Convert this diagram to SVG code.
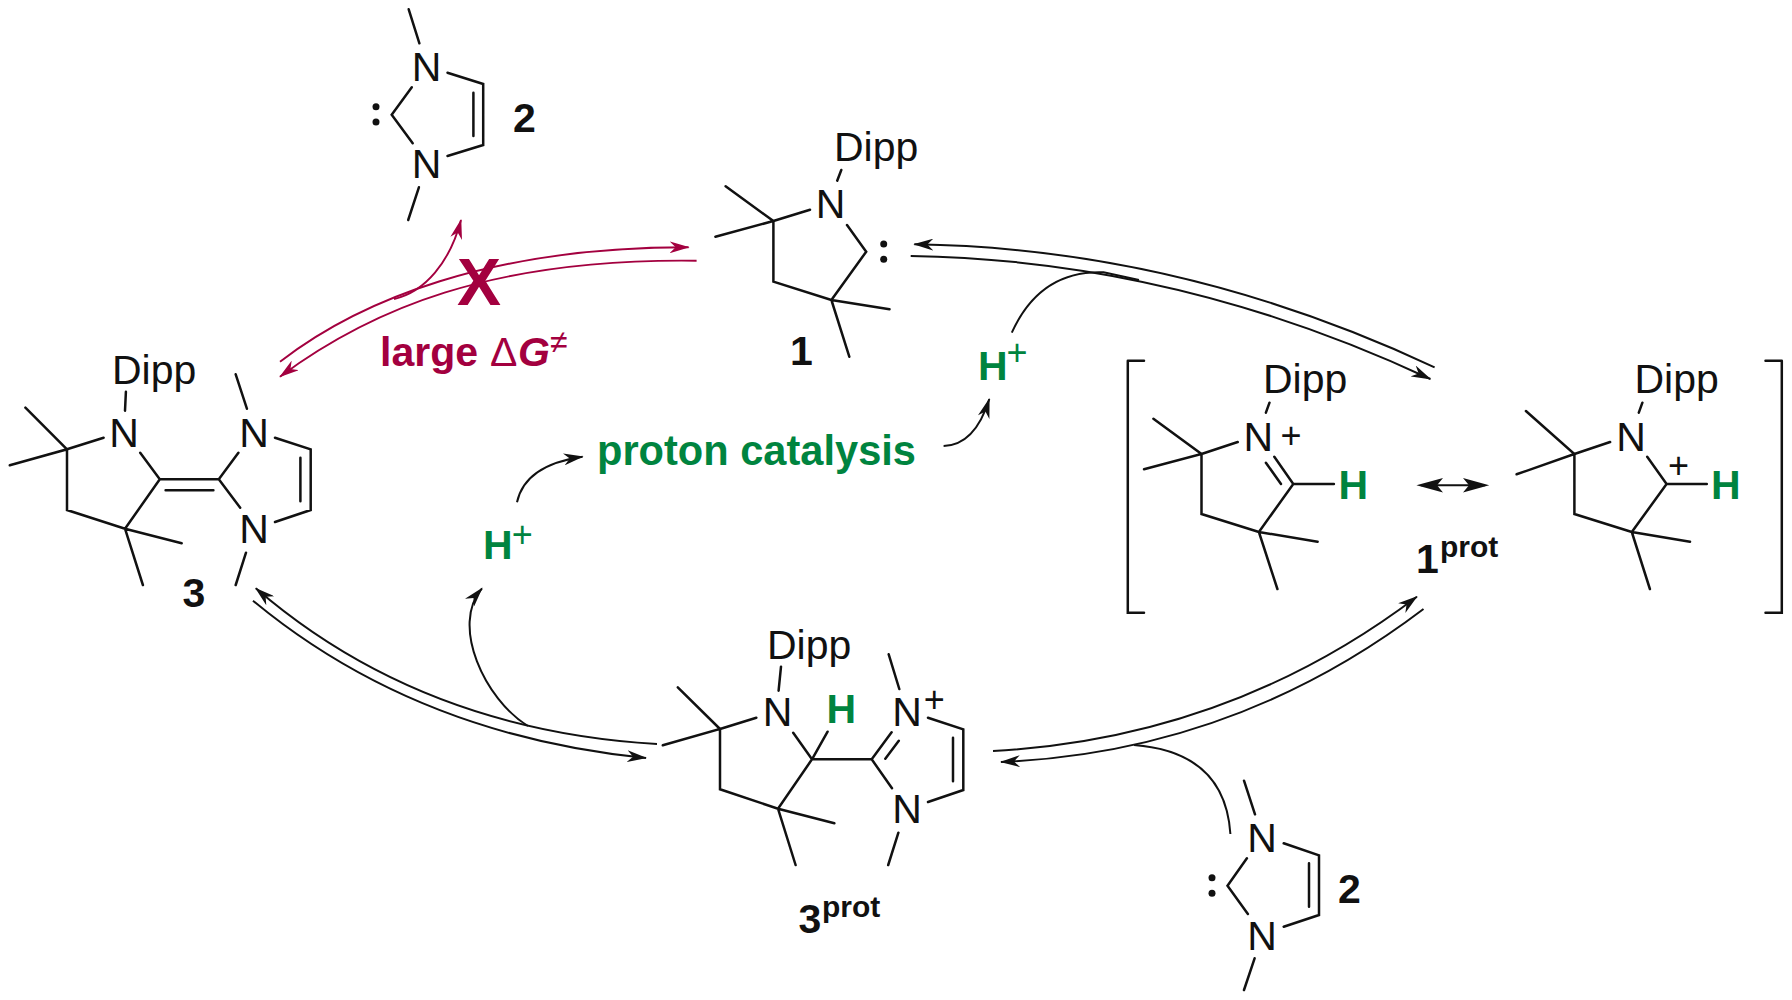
<svg xmlns="http://www.w3.org/2000/svg" width="1792" height="1000" viewBox="0 0 1792 1000">
<style>
text{font-family:"Liberation Sans",Arial,sans-serif;font-size:41px;fill:#111}
.c{text-anchor:middle}
.bd{font-weight:bold}
.g{fill:#00843f}
.r{fill:#a3003f}
.pl{font-size:36px;text-anchor:middle}
.sup{font-size:30px;font-weight:bold}
.b{fill:none;stroke:#111;stroke-width:2.5;stroke-linecap:round;stroke-linejoin:miter}
.a{fill:none;stroke:#111;stroke-width:2}
.ar{fill:none;stroke:#a3003f;stroke-width:1.9}
.e{marker-end:url(#ah)}
.er{marker-end:url(#ahr)}
.dot{fill:#111}
</style>
<defs>
<marker id="ah" markerUnits="userSpaceOnUse" markerWidth="20" markerHeight="12" refX="19" refY="6" orient="auto"><path d="M20,6 L0,0 L6,6 L0,12 Z" fill="#111"/></marker>
<marker id="ahr" markerUnits="userSpaceOnUse" markerWidth="20" markerHeight="12" refX="19" refY="6" orient="auto"><path d="M20,6 L0,0 L6,6 L0,12 Z" fill="#a3003f"/></marker>
</defs>
<g id="connectors">
<path class="ar er" d="M280,361.7 C360,300 490,247 688.6,247.3"/>
<path class="ar er" d="M696.6,260.7 C490,258 370,310 280,376.7"/>
<path class="ar er" d="M394,299 C425,292 450,262 461,220"/>
<path class="a e" d="M1434.6,367.3 Q1180,248 914.3,244.3"/>
<path class="a e" d="M910.7,256 Q1176,260 1430.4,379"/>
<path class="a" d="M1011.8,332.7 Q1040,270 1103.6,272.3 L1139,280"/>
<path class="a e" d="M943.6,446 Q975,445 989.3,399"/>
<path class="a e" d="M517,502.3 Q525,465 582.6,456.7"/>
<path class="a e" d="M528,726 C485,700 450,625 482,588.3"/>
<path class="a e" d="M657,744 Q420,730 255.8,588.3"/>
<path class="a e" d="M253,600.7 Q415,735 646,758"/>
<path class="a e" d="M993,751 Q1230,738 1416.9,596.7"/>
<path class="a e" d="M1423.5,609 Q1235,752 1001,762"/>
<path class="a" d="M1134,745 Q1225,752 1230.4,834"/>
<path class="a" d="M1421,485.3 H1485"/>
<path d="M1416.4,485.3 L1443,478 L1437,485.3 L1443,492.6 Z M1489.2,485.3 L1463,478 L1469,485.3 L1463,492.6 Z" fill="#111"/>
</g>
<g id="node-2-top">
<path class="b" d="M408.7,9.3 L419.4,43.3 M447.5,72.7 L483.2,84 V145 L447.5,156 M473.4,92.7 V136 M411.8,87.3 L391.7,114.7 L412.7,143.3 M418.9,187.3 L408.2,220"/>
<text class="c" x="426.5" y="81">N</text><text class="c" x="426.5" y="178.3">N</text>
<circle class="dot" cx="376" cy="106.7" r="3.5"/><circle class="dot" cx="376" cy="122" r="3.5"/>
<text class="bd" x="513" y="131.7">2</text>
</g>
<g id="node-1">
<path class="b" d="M841.3,170 L837.2,180.7 M725.6,186.3 L773.4,221 L715.4,236.7 M773.4,221 L810,209.7 M773.4,221 V281.7 L831.4,300 L866.2,251.7 L847,225 M831.4,300 L889.5,309.3 M831.4,300 L849.3,356.7"/>
<text x="834" y="160.7">Dipp</text><text class="c" x="830.5" y="218.3">N</text>
<circle class="dot" cx="883.7" cy="244" r="3.5"/><circle class="dot" cx="883.7" cy="259.3" r="3.5"/>
<text class="bd" x="790" y="365">1</text>
</g>
<g id="node-3">
<path class="b" d="M125.9,391.7 L125,410.7 M25.4,407.7 L67,449.3 L9.8,465.3 M67,449.3 L103.6,437.7 M67,449.3 V510 L125,528.7 L159.8,479.3 L140.2,452.7 M125,528.7 L181.7,543.3 M125,528.7 L142.9,585 M159.8,479.3 H218.8 M165.6,490.3 H213.4 M238.4,452.7 L218.8,479.3 L240.2,507.7 M235.7,374.3 L246.9,408.7 M246,552.7 L235.7,585 M275,437.7 L310.7,449.3 V510 L275,522 M300.4,457.7 V501.3"/>
<text x="112" y="384">Dipp</text><text class="c" x="124" y="446.7">N</text><text class="c" x="254" y="446.7">N</text><text class="c" x="254" y="543.3">N</text>
<text class="bd" x="182.5" y="606.7">3</text>
</g>
<g id="node-proton">
<text class="bd g" style="font-size:41.6px" x="597" y="465">proton catalysis</text>
<text class="bd g" x="483" y="559.3">H</text><text class="pl g" x="522.3" y="547">+</text>
<text class="bd g" x="978" y="380">H</text><text class="pl g" x="1017" y="365">+</text>
</g>
<g id="node-1prot">
<path class="b" d="M1127.8,360.7 H1144 M1127.8,360.7 V612.7 H1144 M1781.8,360.7 H1765.5 M1781.8,360.7 V612.7 H1765.5"/>
<path class="b" d="M1269.5,402.7 L1265.9,412.7 M1153.4,418.7 L1201.5,454 L1144,469.3 M1201.5,454 L1237.7,442 M1201.5,454 V514 L1258.9,532 L1293.3,484 L1274.3,456.7 M1265.9,462.7 L1281,484 M1293.3,484 H1333.9 M1258.9,532 L1317.6,541.7 M1258.9,532 L1277.4,589"/>
<text x="1263" y="393.3">Dipp</text><text class="c" x="1258.2" y="451">N</text><text class="pl" x="1291" y="448">+</text>
<text class="bd g" x="1338.5" y="499">H</text>
<path class="b" d="M1642.4,402.7 L1638.8,412.7 M1525.9,411 L1574.4,454 L1516.6,474.3 M1574.4,454 L1610.1,442 M1574.4,454 V514 L1631.8,532 L1666.6,484 L1647.2,456.7 M1666.6,484 H1706.8 M1631.8,532 L1690,541.7 M1631.8,532 L1649.9,589"/>
<text x="1634.5" y="393.3">Dipp</text><text class="c" x="1631.1" y="451">N</text><text class="pl" x="1678.5" y="478">+</text>
<text class="bd g" x="1711" y="499">H</text>
<text class="bd" x="1416" y="572.7">1</text><text class="sup" x="1440" y="556.7">prot</text>
</g>
<g id="node-3prot">
<path class="b" d="M781,666.7 L778.6,690.7 M677.8,687.3 L720,729 L662.8,745.3 M720,729 V789.3 L778,808.7 L812,759.3 L793.2,732.7 M720,729 L756.3,717.7 M812,759.3 L827.6,731.7 M812,759.3 H871.7 M778,808.7 L834.4,823.3 M778,808.7 L795.6,865 M891.6,732.3 L871.7,759.3 L892,788.3 M885.3,758.7 L898.8,740.7 M888.7,654.3 L899.3,689 M898.4,832.7 L888.2,865 M928,717.7 L963.3,729.3 V790 L928,802 M953,737.7 V781.3"/>
<text x="767" y="659">Dipp</text><text class="c" x="777.5" y="726">N</text><text class="bd g" x="826.5" y="723.3">H</text>
<text class="c" x="907" y="726">N</text><text class="pl" x="934.2" y="712">+</text><text class="c" x="907" y="823.3">N</text>
<text class="bd" x="798.5" y="933.3">3</text><text class="sup" x="822" y="916.7">prot</text>
</g>
<g id="node-2-bottom">
<path class="b" d="M1244,780.7 L1255,814.3 M1283.7,843.3 L1319,855.3 V915 L1283.7,926.7 M1309,863.3 V906.7 M1246.9,858.3 L1227.5,885.7 L1247.9,914 M1254.6,958.3 L1244,990"/>
<text class="c" x="1262" y="851.7">N</text><text class="c" x="1262" y="950">N</text>
<circle class="dot" cx="1212" cy="877.7" r="3.5"/><circle class="dot" cx="1212" cy="893.3" r="3.5"/>
<text class="bd" x="1338" y="903.3">2</text>
</g>
<g id="node-large">
<text class="bd r" style="font-size:66px" x="457" y="305">X</text>
<text class="bd r" x="380" y="366">large</text>
<text class="r" x="490" y="366">Δ</text>
<text class="bd r" style="font-style:italic" x="518" y="366">G</text>
<text class="r" style="font-size:32px" x="550" y="353">≠</text>
</g>
</svg>
